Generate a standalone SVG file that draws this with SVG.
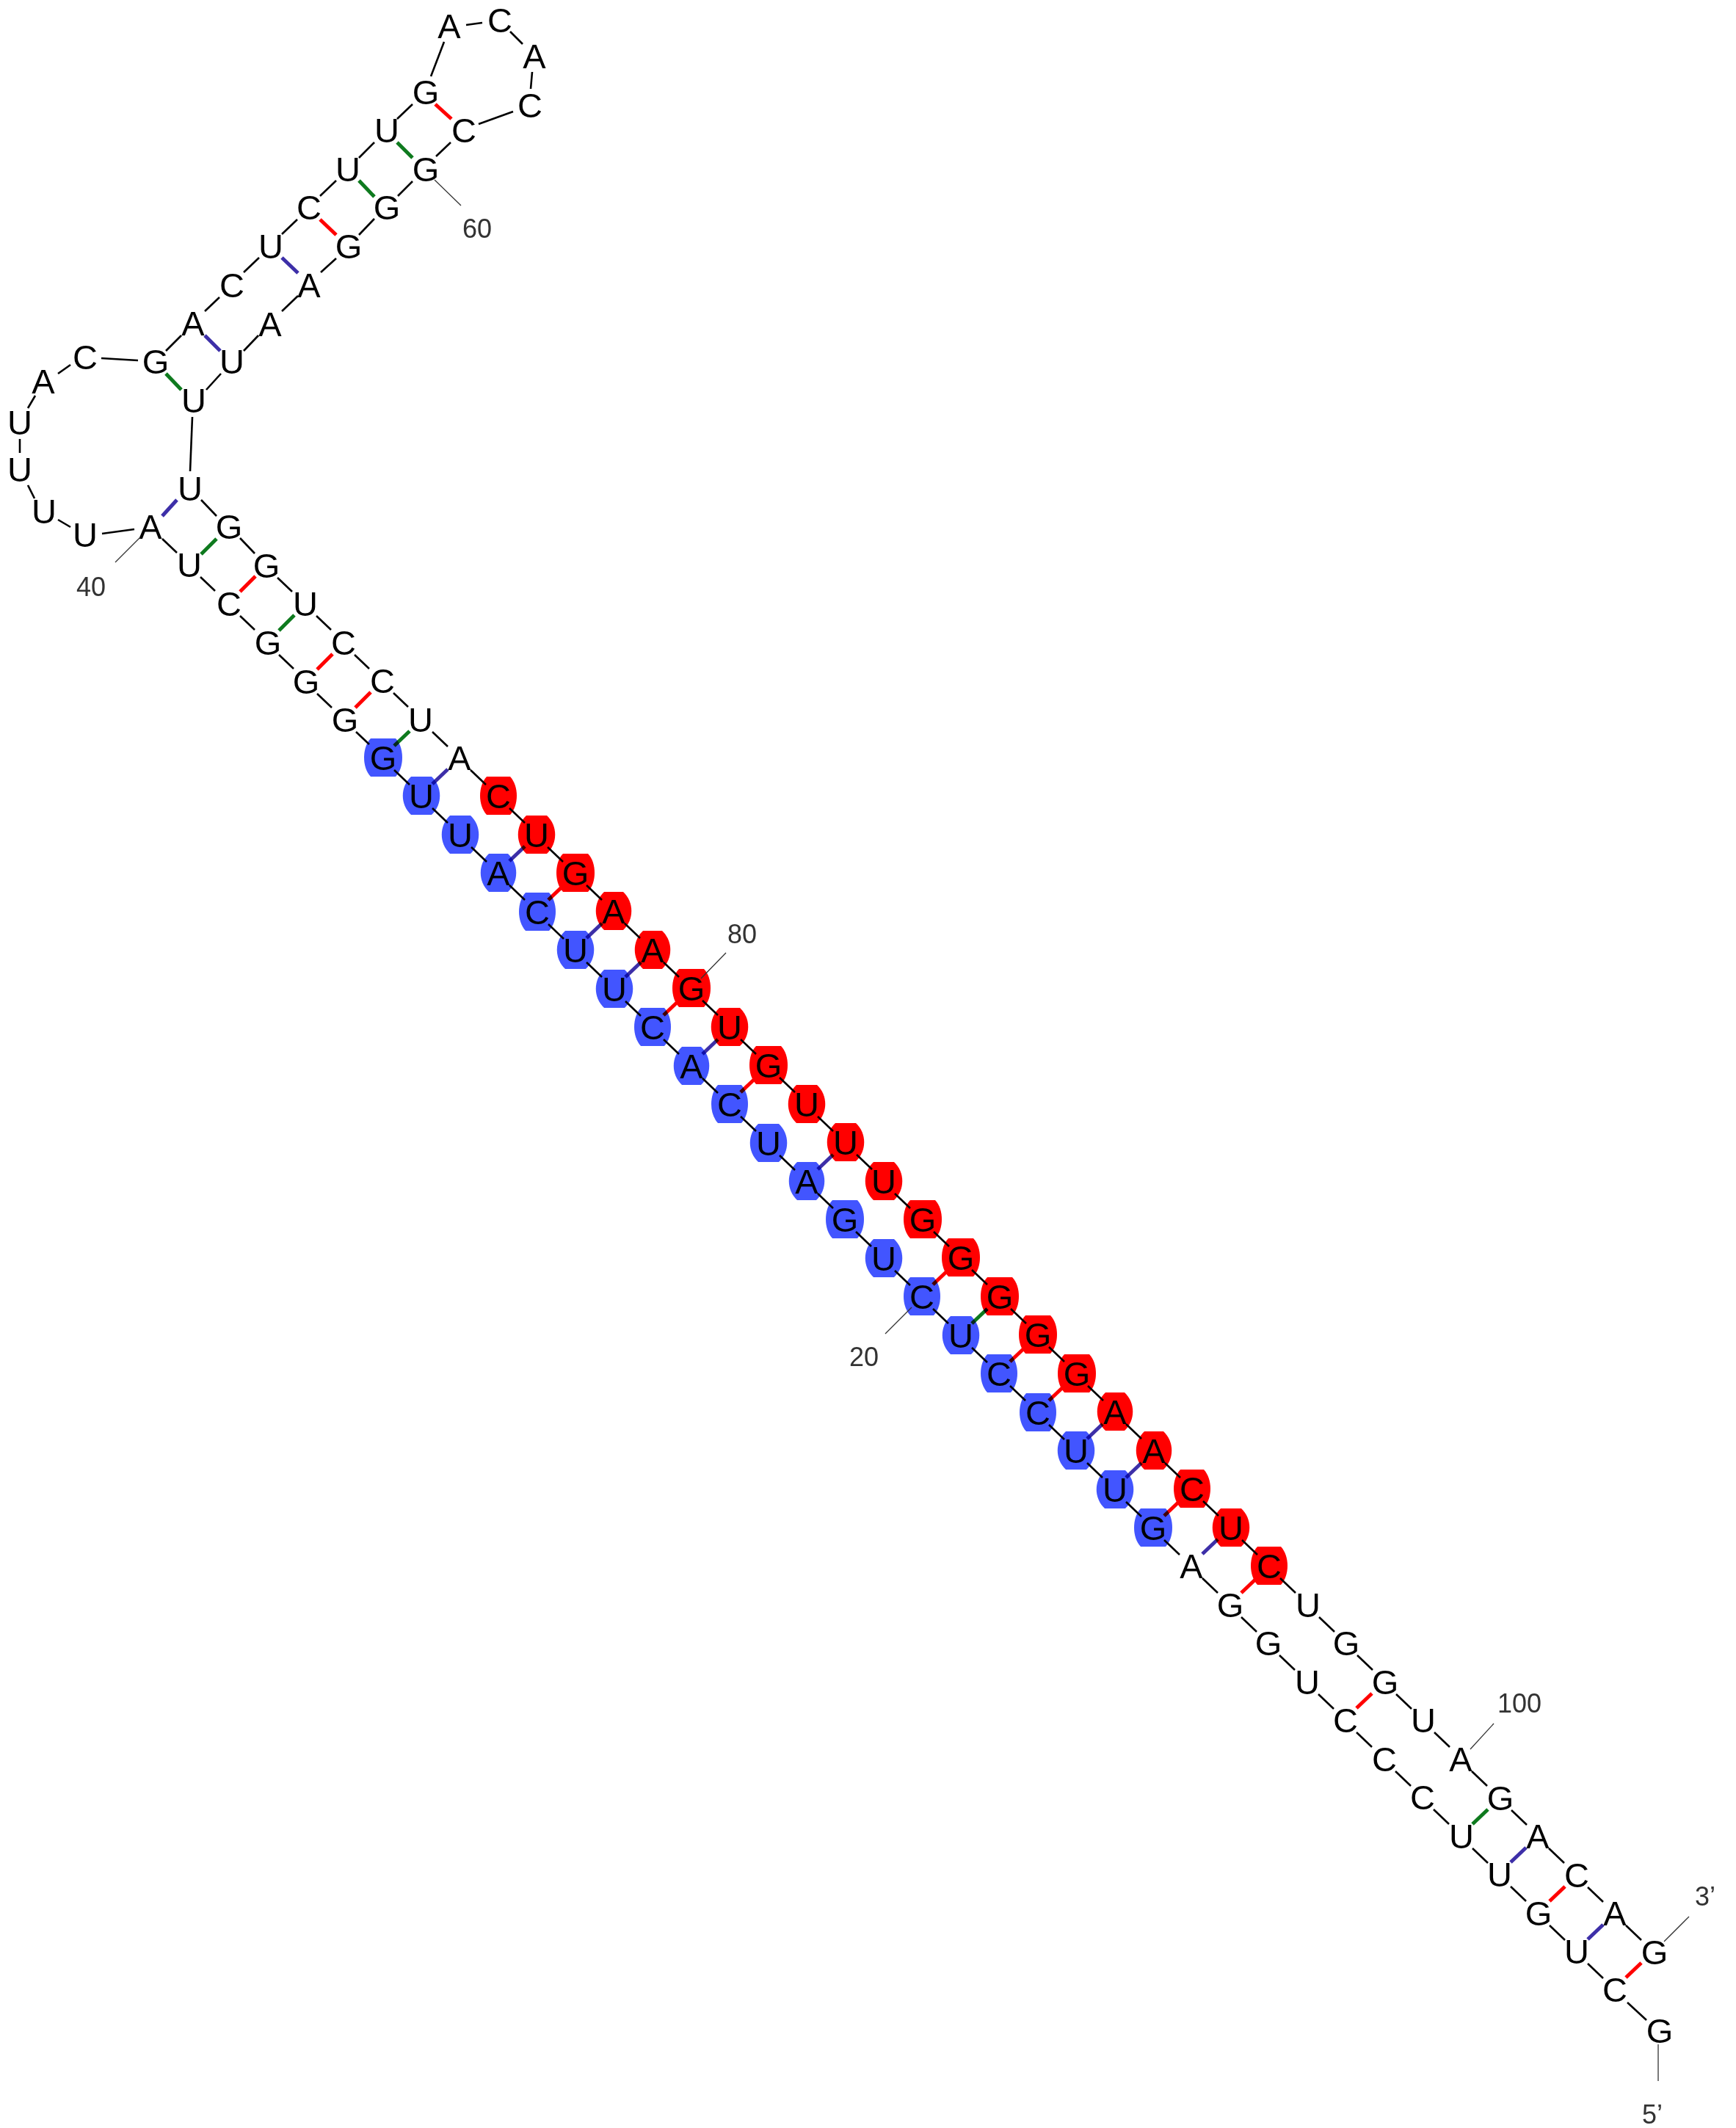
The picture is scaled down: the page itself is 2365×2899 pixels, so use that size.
<svg xmlns="http://www.w3.org/2000/svg" width="2365" height="2899" viewBox="0 0 2365 2899">
<style>
text{font-family:"Liberation Sans",Arial,sans-serif}
.n text{font-size:47px;text-anchor:middle;fill:#000;transform:translateY(1px)}
.lab{font-size:36px;text-anchor:middle;fill:#333}
.b{fill:#4255ff}
.r{fill:#ff0000}
#bb path{stroke:#000;stroke-width:2.6;fill:none}
#pairs path{stroke-width:5;fill:none;mix-blend-mode:multiply}
.pr{stroke:#ff0000}
.pb{stroke:#3d2fa8}
.pg{stroke:#0e7a1e}
#lead path{stroke:#333;stroke-width:1.3;fill:none}
</style>
<defs>
<path id="bgG" d="M-17-26H17C29-14 29 14 17 26H-17C-29 14-29-14-17-26Z"/>
<path id="bgU" d="M-14-26H14C29-12 29 12 14 26H-14C-29 12-29-12-14-26Z"/>
<path id="bgA" d="M-13-26H13C28-12 28 12 13 26H-13C-28 12-28-12-13-26Z"/>
<path id="bgC" d="M-16-26H16C28-13 28 13 16 26H-16C-28 13-28-13-16-26Z"/>
</defs>
<g id="nodes" class="n">
<g id="n1"><text x="2261" y="2782">G</text></g>
<g id="n2"><text x="2200" y="2726">C</text></g>
<g id="n3"><text x="2148" y="2674">U</text></g>
<g id="n4"><text x="2096" y="2622">G</text></g>
<g id="n5"><text x="2043" y="2569">U</text></g>
<g id="n6"><text x="1991" y="2517">U</text></g>
<g id="n7"><text x="1938" y="2464">C</text></g>
<g id="n8"><text x="1886" y="2412">C</text></g>
<g id="n9"><text x="1833" y="2359">C</text></g>
<g id="n10"><text x="1781" y="2307">U</text></g>
<g id="n11"><text x="1728" y="2254">G</text></g>
<g id="n12"><text x="1676" y="2202">G</text></g>
<g id="n13"><text x="1623" y="2149">A</text></g>
<g id="n14"><use href="#bgG" x="1571" y="2081" class="b"/><text x="1571" y="2097">G</text></g>
<g id="n15"><use href="#bgU" x="1519" y="2029" class="b"/><text x="1519" y="2045">U</text></g>
<g id="n16"><use href="#bgU" x="1466" y="1976" class="b"/><text x="1466" y="1992">U</text></g>
<g id="n17"><use href="#bgC" x="1414" y="1924" class="b"/><text x="1414" y="1940">C</text></g>
<g id="n18"><use href="#bgC" x="1361" y="1871" class="b"/><text x="1361" y="1887">C</text></g>
<g id="n19"><use href="#bgU" x="1309" y="1819" class="b"/><text x="1309" y="1835">U</text></g>
<g id="n20"><use href="#bgC" x="1256" y="1766" class="b"/><text x="1256" y="1782">C</text></g>
<g id="n21"><use href="#bgU" x="1204" y="1714" class="b"/><text x="1204" y="1730">U</text></g>
<g id="n22"><use href="#bgG" x="1151" y="1661" class="b"/><text x="1151" y="1677">G</text></g>
<g id="n23"><use href="#bgA" x="1099" y="1609" class="b"/><text x="1099" y="1625">A</text></g>
<g id="n24"><use href="#bgU" x="1047" y="1557" class="b"/><text x="1047" y="1573">U</text></g>
<g id="n25"><use href="#bgC" x="994" y="1504" class="b"/><text x="994" y="1520">C</text></g>
<g id="n26"><use href="#bgA" x="942" y="1452" class="b"/><text x="942" y="1468">A</text></g>
<g id="n27"><use href="#bgC" x="889" y="1399" class="b"/><text x="889" y="1415">C</text></g>
<g id="n28"><use href="#bgU" x="837" y="1347" class="b"/><text x="837" y="1363">U</text></g>
<g id="n29"><use href="#bgU" x="784" y="1294" class="b"/><text x="784" y="1310">U</text></g>
<g id="n30"><use href="#bgC" x="732" y="1242" class="b"/><text x="732" y="1258">C</text></g>
<g id="n31"><use href="#bgA" x="679" y="1189" class="b"/><text x="679" y="1205">A</text></g>
<g id="n32"><use href="#bgU" x="627" y="1137" class="b"/><text x="627" y="1153">U</text></g>
<g id="n33"><use href="#bgU" x="574" y="1084" class="b"/><text x="574" y="1100">U</text></g>
<g id="n34"><use href="#bgG" x="522" y="1032" class="b"/><text x="522" y="1048">G</text></g>
<g id="n35"><text x="470" y="996">G</text></g>
<g id="n36"><text x="417" y="944">G</text></g>
<g id="n37"><text x="365" y="891">G</text></g>
<g id="n38"><text x="312" y="838">C</text></g>
<g id="n39"><text x="258" y="785">U</text></g>
<g id="n40"><text x="205" y="733">A</text></g>
<g id="n41"><text x="116" y="744">U</text></g>
<g id="n42"><text x="60" y="712">U</text></g>
<g id="n43"><text x="27" y="655">U</text></g>
<g id="n44"><text x="27" y="591">U</text></g>
<g id="n45"><text x="59" y="535">A</text></g>
<g id="n46"><text x="116" y="502">C</text></g>
<g id="n47"><text x="212" y="508">G</text></g>
<g id="n48"><text x="263" y="456">A</text></g>
<g id="n49"><text x="316" y="404">C</text></g>
<g id="n50"><text x="369" y="351">U</text></g>
<g id="n51"><text x="421" y="298">C</text></g>
<g id="n52"><text x="474" y="246">U</text></g>
<g id="n53"><text x="527" y="193">U</text></g>
<g id="n54"><text x="580" y="141">G</text></g>
<g id="n55"><text x="612" y="51">A</text></g>
<g id="n56"><text x="681" y="43">C</text></g>
<g id="n57"><text x="728" y="92">A</text></g>
<g id="n58"><text x="722" y="159">C</text></g>
<g id="n59"><text x="632" y="193">C</text></g>
<g id="n60"><text x="580" y="246">G</text></g>
<g id="n61"><text x="527" y="298">G</text></g>
<g id="n62"><text x="475" y="351">G</text></g>
<g id="n63"><text x="421" y="404">A</text></g>
<g id="n64"><text x="368" y="457">A</text></g>
<g id="n65"><text x="316" y="508">U</text></g>
<g id="n66"><text x="264" y="561">U</text></g>
<g id="n67"><text x="259" y="681">U</text></g>
<g id="n68"><text x="312" y="733">G</text></g>
<g id="n69"><text x="363" y="786">G</text></g>
<g id="n70"><text x="416" y="838">U</text></g>
<g id="n71"><text x="468" y="891">C</text></g>
<g id="n72"><text x="521" y="943">C</text></g>
<g id="n73"><text x="573" y="996">U</text></g>
<g id="n74"><text x="626" y="1048">A</text></g>
<g id="n75"><use href="#bgC" x="679" y="1084" class="r"/><text x="679" y="1100">C</text></g>
<g id="n76"><use href="#bgU" x="731" y="1137" class="r"/><text x="731" y="1153">U</text></g>
<g id="n77"><use href="#bgG" x="784" y="1189" class="r"/><text x="784" y="1205">G</text></g>
<g id="n78"><use href="#bgA" x="836" y="1241" class="r"/><text x="836" y="1257">A</text></g>
<g id="n79"><use href="#bgA" x="889" y="1294" class="r"/><text x="889" y="1310">A</text></g>
<g id="n80"><use href="#bgG" x="942" y="1346" class="r"/><text x="942" y="1362">G</text></g>
<g id="n81"><use href="#bgU" x="994" y="1399" class="r"/><text x="994" y="1415">U</text></g>
<g id="n82"><use href="#bgG" x="1047" y="1451" class="r"/><text x="1047" y="1467">G</text></g>
<g id="n83"><use href="#bgU" x="1099" y="1504" class="r"/><text x="1099" y="1520">U</text></g>
<g id="n84"><use href="#bgU" x="1152" y="1556" class="r"/><text x="1152" y="1572">U</text></g>
<g id="n85"><use href="#bgU" x="1204" y="1609" class="r"/><text x="1204" y="1625">U</text></g>
<g id="n86"><use href="#bgG" x="1257" y="1661" class="r"/><text x="1257" y="1677">G</text></g>
<g id="n87"><use href="#bgG" x="1309" y="1713" class="r"/><text x="1309" y="1729">G</text></g>
<g id="n88"><use href="#bgG" x="1362" y="1766" class="r"/><text x="1362" y="1782">G</text></g>
<g id="n89"><use href="#bgG" x="1414" y="1818" class="r"/><text x="1414" y="1834">G</text></g>
<g id="n90"><use href="#bgG" x="1467" y="1871" class="r"/><text x="1467" y="1887">G</text></g>
<g id="n91"><use href="#bgA" x="1519" y="1923" class="r"/><text x="1519" y="1939">A</text></g>
<g id="n92"><use href="#bgA" x="1572" y="1976" class="r"/><text x="1572" y="1992">A</text></g>
<g id="n93"><use href="#bgC" x="1624" y="2028" class="r"/><text x="1624" y="2044">C</text></g>
<g id="n94"><use href="#bgU" x="1677" y="2081" class="r"/><text x="1677" y="2097">U</text></g>
<g id="n95"><use href="#bgC" x="1729" y="2133" class="r"/><text x="1729" y="2149">C</text></g>
<g id="n96"><text x="1782" y="2202">U</text></g>
<g id="n97"><text x="1834" y="2254">G</text></g>
<g id="n98"><text x="1887" y="2307">G</text></g>
<g id="n99"><text x="1939" y="2359">U</text></g>
<g id="n100"><text x="1990" y="2412">A</text></g>
<g id="n101"><text x="2044" y="2465">G</text></g>
<g id="n102"><text x="2095" y="2517">A</text></g>
<g id="n103"><text x="2148" y="2570">C</text></g>
<g id="n104"><text x="2200" y="2622">A</text></g>
<g id="n105"><text x="2254" y="2675">G</text></g>
</g>
<g id="connectors">
<g id="bb">
<path d="M2217 2728L2243 2752"/><path d="M2163 2675l21 20"/><path d="M2111 2623l21 20"/><path d="M2058 2570l21 20"/><path d="M2006 2518l21 20"/><path d="M1953 2465l21 20"/><path d="M1901 2413l21 20"/><path d="M1848 2360l21 20"/><path d="M1796 2308l21 20"/><path d="M1743 2255l21 20"/><path d="M1691 2203l21 20"/><path d="M1638 2150l21 20"/><path d="M1586 2098l21 20"/><path d="M1534 2046l21 20"/><path d="M1481 1993l21 20"/><path d="M1429 1941l21 20"/><path d="M1376 1888l21 20"/><path d="M1324 1836l21 20"/><path d="M1271 1783l21 20"/><path d="M1219 1731l21 20"/><path d="M1166 1678l21 20"/><path d="M1114 1626l21 20"/><path d="M1062 1574l21 20"/><path d="M1009 1521l21 20"/><path d="M957 1469l21 20"/><path d="M904 1416l21 20"/><path d="M852 1364l21 20"/><path d="M799 1311l21 20"/><path d="M747 1259l21 20"/><path d="M694 1206l21 20"/><path d="M642 1154l21 20"/><path d="M589 1101l21 20"/><path d="M537 1049l21 20"/>
<path d="M485 997l18 17"/><path d="M432 945l20 19"/><path d="M380 892l20 19"/><path d="M327 839l20 19"/><path d="M273 786l20 19"/><path d="M221 734l20 19"/>
<path d="M183 721L139 727"/><path d="M96 718L79 708"/><path d="M47 679L38 661"/><path d="M27 617L27 598"/><path d="M38 556L48 539"/><path d="M79 509L96 497"/><path d="M138 488L188 491"/><path d="M226 478L247 457"/><path d="M279 424L299 405"/><path d="M332 371L353 351"/><path d="M384 319L405 299"/><path d="M436 267L458 246"/><path d="M489 215L510 194"/><path d="M541 162L562 142"/><path d="M587 104L605 57"/><path d="M635 34L657 31"/><path d="M695 43L712 60"/><path d="M725 98L723 121"/><path d="M699 152L652 169"/><path d="M614 194L594 213"/><path d="M562 247L542 267"/><path d="M510 298L489 320"/><path d="M458 352L437 371"/><path d="M406 403L384 424"/><path d="M352 457L332 478"/><path d="M301 509L281 531"/><path d="M262 568L259 642"/><path d="M274 681L295 703"/><path d="M327 733L347 754"/>
<path d="M378 787l20 19"/><path d="M431 839l20 19"/><path d="M483 892l20 19"/><path d="M536 944l20 19"/><path d="M589 997l21 20"/><path d="M641 1049l21 20"/><path d="M694 1101l21 20"/><path d="M746 1154l21 20"/><path d="M799 1206l21 20"/><path d="M851 1258l21 20"/><path d="M904 1311l21 20"/><path d="M957 1363l21 20"/><path d="M1009 1416l21 20"/><path d="M1062 1468l21 20"/><path d="M1114 1521l21 20"/><path d="M1167 1573l21 20"/><path d="M1219 1626l21 20"/><path d="M1272 1678l21 20"/><path d="M1324 1730l21 20"/><path d="M1377 1783l21 20"/><path d="M1429 1835l21 20"/><path d="M1482 1888l21 20"/><path d="M1534 1940l21 20"/><path d="M1587 1993l21 20"/><path d="M1639 2045l21 20"/><path d="M1692 2098l21 20"/><path d="M1744 2150l21 20"/><path d="M1797 2203l21 20"/><path d="M1849 2255l21 20"/><path d="M1902 2308l21 20"/><path d="M1954 2360l21 20"/><path d="M2005 2413l21 20"/><path d="M2059 2466l21 20"/><path d="M2110 2518l21 20"/><path d="M2163 2571l21 20"/><path d="M2215 2623l21 20"/>
</g>
<g id="pairs">
<path class="pr" d="M2215 2694l21-20"/><path class="pb" d="M2163 2642l21-20"/><path class="pr" d="M2111 2590l21-20"/><path class="pb" d="M2058 2537l21-20"/><path class="pg" d="M2006 2485l21-20"/><path class="pr" d="M1848 2327l21-20"/><path class="pr" d="M1691 2170l21-20"/><path class="pb" d="M1638 2117l21-20"/><path class="pr" d="M1586 2065l21-20"/><path class="pb" d="M1534 2013l21-20"/><path class="pb" d="M1481 1960l21-20"/><path class="pr" d="M1429 1908l21-20"/><path class="pr" d="M1376 1855l21-20"/><path class="pg" d="M1324 1803l21-20"/><path class="pr" d="M1271 1750l21-20"/><path class="pb" d="M1114 1593l21-20"/><path class="pr" d="M1009 1488l21-20"/><path class="pb" d="M957 1436l21-20"/><path class="pr" d="M904 1383l21-20"/><path class="pb" d="M852 1331l21-20"/><path class="pb" d="M799 1278l21-20"/><path class="pr" d="M747 1226l21-20"/><path class="pb" d="M694 1173l21-20"/><path class="pb" d="M589 1068l21-20"/><path class="pg" d="M537 1016l21-20"/><path class="pr" d="M484 964l21-21"/><path class="pr" d="M432 912l21-21"/><path class="pg" d="M380 859l21-21"/><path class="pr" d="M327 806l21-21"/><path class="pg" d="M274 755l21-21"/><path class="pb" d="M221 703l20-22"/>
<path class="pb" d="M279 457L300 478"/><path class="pg" d="M226 509L247 531"/><path class="pb" d="M384 351L406 372"/><path class="pr" d="M436 299L458 320"/><path class="pg" d="M489 246L510 268"/><path class="pg" d="M541 194L562 215"/><path class="pr" d="M593 142L615 162"/>
</g>
<g id="lead">
<path d="M592 245L628 280"/><path d="M191 732L157 766"/><path d="M1242 1781L1206 1817"/><path d="M955 1333L989 1298"/><path d="M2003 2383L2035 2348"/><path d="M2267 2645L2301 2611"/><path d="M2259 2785L2259 2835"/>
</g>
</g>
<g id="labels">
<text class="lab" x="650" y="324">60</text>
<text class="lab" x="124" y="812">40</text>
<text class="lab" x="1177" y="1861">20</text>
<text class="lab" x="1011" y="1285">80</text>
<text class="lab" x="2070" y="2333">100</text>
<text class="lab" x="2323" y="2596">3’</text>
<text class="lab" x="2251" y="2893">5’</text>
</g>
</svg>
